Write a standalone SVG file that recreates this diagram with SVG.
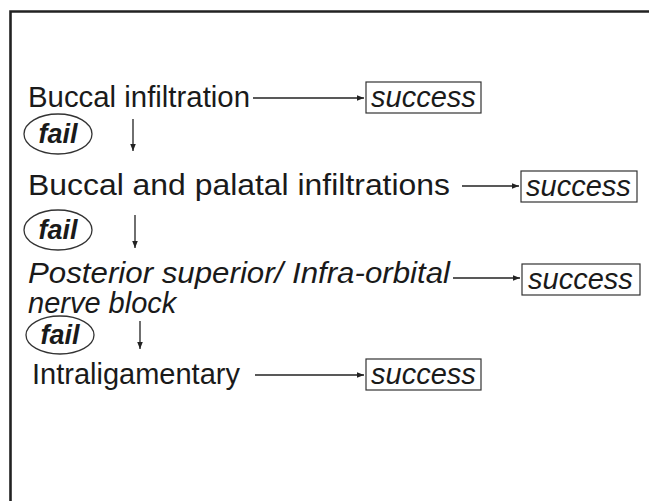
<svg xmlns="http://www.w3.org/2000/svg" width="649" height="501" viewBox="0 0 649 501">
<defs>
<marker id="ah" viewBox="0 0 10 10" refX="10" refY="5" markerWidth="7" markerHeight="7" markerUnits="userSpaceOnUse" orient="auto">
<path d="M0,1 L10,5 L0,9 Z" fill="#222"/>
</marker>
<style>
.t{font-family:"Liberation Sans",Arial,sans-serif;font-size:29px;fill:#1a1a1a}
.i{font-style:italic}
.f{font-family:"Liberation Sans",Arial,sans-serif;font-size:27px;font-weight:bold;font-style:italic;fill:#1a1a1a}
.box{fill:none;stroke:#333;stroke-width:1.2}
.ell{fill:none;stroke:#333;stroke-width:1.3}
.c{stroke:#222;stroke-width:1.3;fill:none;marker-end:url(#ah)}
.frame{stroke:#222;stroke-width:2.6;fill:none}
</style>
</defs>
<rect width="649" height="501" fill="#fff"/>
<path class="frame" d="M10.5,501 V11.5 H649"/>
<g id="n1"><text class="t" x="28" y="107" textLength="222" lengthAdjust="spacingAndGlyphs">Buccal infiltration</text></g>
<g id="s1"><rect class="box" x="366" y="82" width="115" height="31"/><text class="t i" x="371" y="107">success</text></g>
<g id="f1"><ellipse class="ell" cx="58" cy="134" rx="34" ry="20"/><text class="f" x="58" y="143" text-anchor="middle">fail</text></g>
<g id="n2"><text class="t" x="28" y="195" textLength="422" lengthAdjust="spacingAndGlyphs">Buccal and palatal infiltrations</text></g>
<g id="s2"><rect class="box" x="521" y="171" width="116" height="31"/><text class="t i" x="526" y="196">success</text></g>
<g id="f2"><ellipse class="ell" cx="58" cy="230" rx="34" ry="20"/><text class="f" x="58" y="239" text-anchor="middle">fail</text></g>
<g id="n3"><text class="t i" x="28" y="283" textLength="422" lengthAdjust="spacingAndGlyphs">Posterior superior/ Infra-orbital</text><text class="t i" x="28" y="313">nerve block</text></g>
<g id="s3"><rect class="box" x="522" y="264" width="118" height="31"/><text class="t i" x="528" y="289">success</text></g>
<g id="f3"><ellipse class="ell" cx="60" cy="335" rx="34" ry="19"/><text class="f" x="60" y="344" text-anchor="middle">fail</text></g>
<g id="n4"><text class="t" x="32" y="384">Intraligamentary</text></g>
<g id="s4"><rect class="box" x="366" y="359" width="115" height="31"/><text class="t i" x="371" y="384">success</text></g>
<g id="connectors">
<line class="c" x1="253" y1="98" x2="364" y2="98"/>
<line class="c" x1="133" y1="119" x2="133" y2="151"/>
<line class="c" x1="462" y1="186" x2="519" y2="186"/>
<line class="c" x1="135" y1="215" x2="135" y2="248"/>
<line class="c" x1="453" y1="278" x2="520" y2="278"/>
<line class="c" x1="140" y1="321" x2="140" y2="349"/>
<line class="c" x1="255" y1="375" x2="364" y2="375"/>
</g>
</svg>
